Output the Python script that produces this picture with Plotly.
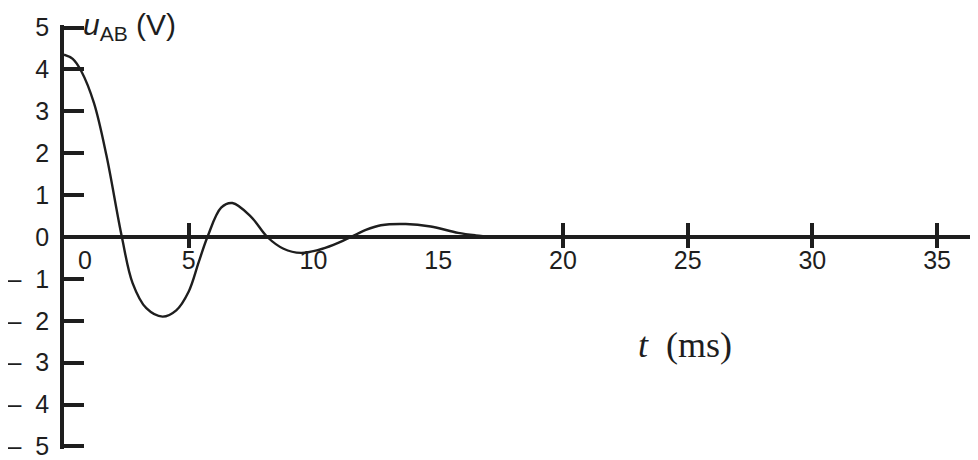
import plotly.graph_objects as go

# data
t_ms = [0, 0.35, 0.7, 1.2, 1.7, 2.32, 2.75, 3.3, 3.95, 4.5, 5.0, 5.4, 5.75, 6.3,
        6.75, 7.5, 8.15, 8.8, 9.5, 10.2, 10.8, 11.5, 12.1, 12.7, 13.7, 14.7,
        15.8, 16.5, 17.2]
u_ab = [4.35, 4.25, 3.95, 3.2, 1.95, 0.0, -1.1, -1.7, -1.9, -1.75, -1.3, -0.6,
        0.0, 0.7, 0.81, 0.48, 0.0, -0.28, -0.38, -0.31, -0.19, 0.0, 0.17, 0.28,
        0.31, 0.25, 0.1, 0.04, 0.0]

x_label_vals = [5, 10, 15, 20, 25, 30, 35]
x_mark_vals = [5, 20, 25, 30, 35]
y_vals = [-5, -4, -3, -2, -1, 0, 1, 2, 3, 4, 5]
y_text = ["\u2013\u00a0\u00a05", "\u2013\u00a0\u00a04", "\u2013\u00a0\u00a03",
          "\u2013\u00a0\u00a02", "\u2013\u00a0\u00a01", "0", "1", "2", "3", "4", "5"]

ink = "#1e1e1e"
sans = "Liberation Sans, Arial, sans-serif"
serif = "Liberation Serif, Times New Roman, serif"
XR = [0, 36.64]
YR = [-5.06, 5.06]

fig = go.Figure()
fig.add_trace(go.Scatter(x=t_ms, y=u_ab, mode="lines",
                         line=dict(color=ink, width=2.4, shape="spline", smoothing=1.0),
                         hoverinfo="skip", showlegend=False))
# invisible helpers on the tick-mark axes
for ax in ["x2", "x3"]:
    fig.add_trace(go.Scatter(x=XR, y=[0, 0], xaxis=ax, mode="lines",
                             line=dict(width=0), hoverinfo="skip", showlegend=False))

common = dict(range=XR, showgrid=False, zeroline=False, anchor="free", position=0.5)
fig.update_layout(
    width=970, height=452,
    margin=dict(l=54, r=0, t=17, b=8),
    paper_bgcolor="white", plot_bgcolor="white",
    xaxis=dict(**common, showline=True, linecolor=ink, linewidth=3.5,
               tickvals=x_label_vals, ticks="", ticklabelstandoff=0,
               tickfont=dict(family=sans, size=25, color=ink)),
    xaxis2=dict(**common, overlaying="x", showline=False, tickvals=x_mark_vals,
                ticks="outside", ticklen=10, tickwidth=3.5, tickcolor=ink,
                showticklabels=False),
    xaxis3=dict(**common, overlaying="x", showline=False, tickvals=x_mark_vals,
                ticks="inside", ticklen=14, tickwidth=3.5, tickcolor=ink,
                showticklabels=False),
    yaxis=dict(range=YR, showgrid=False, zeroline=False, showline=True,
               linecolor=ink, linewidth=3.5, tickvals=y_vals, ticktext=y_text,
               ticks="inside", ticklen=20, tickwidth=3.5, tickcolor=ink,
               ticklabelstandoff=6, ticklabeloverflow="allow",
               tickfont=dict(family=sans, size=25, color=ink)),
)

fig.add_annotation(x=0, y=5, xref="x", yref="y", xanchor="left", yanchor="middle",
                   xshift=17, yshift=1, showarrow=False,
                   text="<i>u</i><sub>AB</sub> (V)",
                   font=dict(family=sans, size=30, color=ink))
fig.add_annotation(x=0, y=0, xref="x", yref="y", xanchor="center", yanchor="middle",
                   xshift=21, yshift=-23, showarrow=False, text="0",
                   font=dict(family=sans, size=25, color=ink))
fig.add_annotation(x=24.9, y=-2.58, xref="x", yref="y", xanchor="center",
                   yanchor="middle", showarrow=False, text="<i>t</i>\u00a0\u00a0(ms)",
                   font=dict(family=serif, size=36, color=ink))

fig.write_html("out.html")
